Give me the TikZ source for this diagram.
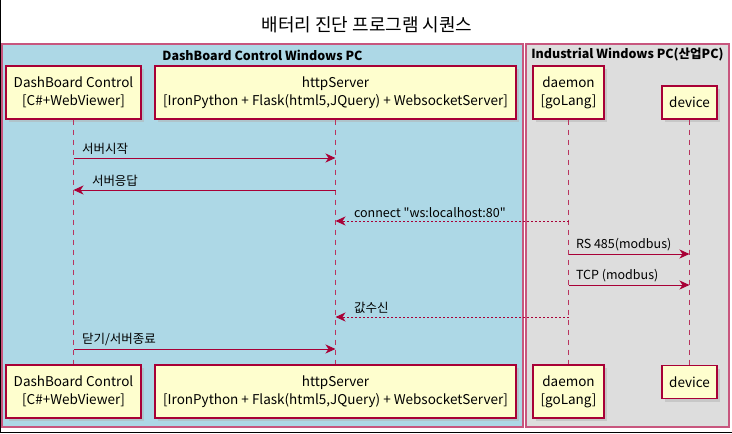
\documentclass[tikz,border=0pt]{standalone}
\usepackage{fontspec}
\setmainfont{Noto Sans CJK KR}
\usetikzlibrary{arrows.meta,shadows}
\definecolor{umlred}{HTML}{A80036}
\definecolor{umlfill}{HTML}{FEFECE}
\definecolor{boxblue}{HTML}{ADD8E6}
\definecolor{boxgray}{HTML}{DDDDDD}
\definecolor{boxline}{HTML}{C8567E}

\begin{document}
\begin{tikzpicture}
[x=1pt,y=-1pt,
 actor/.style={draw=umlred, line width=1.2pt, fill=umlfill, align=center, inner sep=0pt,
   font=\fontsize{13.5}{18}\selectfont,
   drop shadow={shadow xshift=3pt,shadow yshift=-3pt,fill=black!30}},
 group/.style={draw=boxline, line width=1.5pt},
 grouptitle/.style={font=\bfseries\fontsize{12.5}{14}\selectfont, inner sep=0pt},
 life/.style={draw=umlred!80, line width=1pt, dash pattern=on 5pt off 5pt},
 msg/.style={draw=umlred, line width=1pt, -{Stealth[length=10pt,width=9pt,inset=3pt]}},
 reply/.style={msg, dash pattern=on 2pt off 2pt},
 lab/.style={anchor=south west, inner sep=0pt, yshift=3pt, font=\fontsize{12.5}{14}\selectfont},
]
\useasboundingbox (0,0) rectangle (732,434);
\draw[line width=1.2pt] (0.6,0) -- (0.6,432.8) -- (732,432.8);

\node (title) at (367,25) {\fontsize{18}{20}\selectfont 배터리 진단 프로그램 시퀀스};

% the two machines
\draw[group, fill=boxblue] (2,44) rectangle (523,427);
\draw[group, fill=boxgray] (526,44) rectangle (729,427);
\node[grouptitle] (dashpc) at (262.5,55) {DashBoard Control Windows PC};
\node[grouptitle] (indpc) at (627.5,55) {Industrial Windows PC(산업PC)};

% participants, top and bottom
\foreach \p/\y/\yd in {top/92.5/102.5, bot/391.5/382}
{
\node[actor, minimum width=135pt, minimum height=53pt] (dc\p) at (73.5,\y) {DashBoard Control\\\relax[C\#+WebViewer]};
\node[actor, minimum width=361pt, minimum height=53pt] (hs\p) at (335.5,\y) {httpServer\\\relax[IronPython + Flask(html5,JQuery) + WebsocketServer]};
\node[actor, minimum width=71pt, minimum height=53pt] (dm\p) at (568.5,\y) {daemon\\\relax[goLang]};
\node[actor, minimum width=55pt, minimum height=33pt] (dv\p) at (689.5,\yd) {device};
}

\foreach \n in {dc,hs,dm,dv}
{\draw[life] (\n top.south) -- (\n bot.north);}

\draw[msg] (dctop |- 0,158) -- node[lab, at start, xshift=8pt] {서버시작} (hstop |- 0,158);
\draw[msg] (hstop |- 0,190) -- node[lab, at end, xshift=18pt] {서버응답} (dctop |- 0,190);
\draw[reply] (dmtop |- 0,221) -- node[lab, at end, xshift=18pt] {connect \textquotedbl ws:localhost:80\textquotedbl} (hstop |- 0,221);
\draw[msg] (dmtop |- 0,254) -- node[lab, at start, xshift=7pt] {RS 485(modbus)} (dvtop |- 0,254);
\draw[msg] (dmtop |- 0,285) -- node[lab, at start, xshift=7pt] {TCP (modbus)} (dvtop |- 0,285);
\draw[reply] (dmtop |- 0,317) -- node[lab, at end, xshift=18pt] {값수신} (hstop |- 0,317);
\draw[msg] (dctop |- 0,349) -- node[lab, at start, xshift=8pt] {닫기/서버종료} (hstop |- 0,349);
\end{tikzpicture}
\end{document}
